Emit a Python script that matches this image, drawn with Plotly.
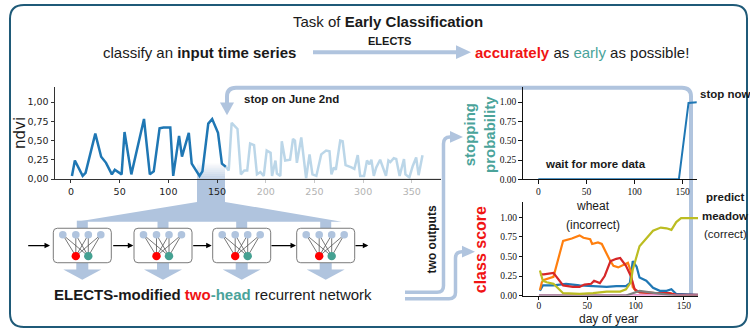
import plotly.graph_objects as go

W, H = 750, 336

# ---------------- data ----------------
# NDVI observations up to the stopping day
ndvi_day_seen = [1, 4, 12, 15, 25, 31, 36, 42, 45, 49, 52, 55, 62, 75, 81, 85, 91, 95, 102, 105,
                 111, 114, 121, 124, 132, 135, 141, 145, 151, 155, 159]
ndvi_seen = [0.04, 0.24, 0.04, 0.08, 0.59, 0.29, 0.21, 0.06, 0.12, 0.09, 0.06, 0.61, 0.06, 0.78, 0.06,
             0.10, 0.66, 0.67, 0.67, 0.04, 0.56, 0.29, 0.60, 0.20, 0.04, 0.10, 0.72, 0.78, 0.60, 0.20, 0.16]
# remainder of the year, never needed by the classifier
ndvi_day_unseen = [159, 162, 165, 171, 174.5, 178, 181, 184, 188, 191, 194.5, 198, 201, 205, 206.5, 210,
                   211.5, 215, 216.5, 220, 225, 228, 230, 232, 236.5, 241.5, 245, 248, 252, 254, 257, 262,
                   265.5, 267.5, 270, 272, 276.5, 279, 282, 288, 291, 294.5, 297, 301, 304, 306.5, 308.5,
                   311, 313.5, 317.5, 320, 323.5, 326, 328, 331.5, 334, 337.5, 342, 343.5, 347.5, 351,
                   354.5, 357, 361]
ndvi_unseen = [0.16, 0.11, 0.73, 0.65, 0.06, 0.11, 0.11, 0.46, 0.44, 0.06, 0.09, 0.04, 0.37, 0.34, 0.04,
               0.24, 0.07, 0.04, 0.49, 0.24, 0.25, 0.52, 0.50, 0.21, 0.54, 0.01, 0.32, 0.06, 0.04, 0.15,
               0.32, 0.37, 0.36, 0.06, 0.15, 0.12, 0.50, 0.49, 0.18, 0.15, 0.13, 0.31, 0.04, 0.04, 0.24,
               0.19, 0.25, 0.04, 0.15, 0.25, 0.15, 0.04, 0.24, 0.22, 0.27, 0.26, 0.04, 0.26, 0.06, 0.02,
               0.17, 0.28, 0.05, 0.31]
ndvi_xticks_seen = [0, 50, 100, 150]
ndvi_xticks_unseen = [200, 250, 300, 350]
ndvi_yticks = [0, 0.25, 0.5, 0.75, 1.0]
ndvi_ytick_labels = ["0,00", "0,25", "0,50", "0,75", "1,00"]

# stopping head output
stop_day = [0, 146, 156, 165]
stop_prob = [0.0, 0.0, 0.99, 1.0]

# classification head output, one series per class
blue_day = [1, 4, 15, 28, 35, 42, 56, 70, 80, 90, 94, 97, 101, 104, 111, 118, 125, 132, 137, 142, 165]
blue_score = [0.06, 0.13, 0.13, 0.15, 0.14, 0.13, 0.12, 0.11, 0.12, 0.12, 0.16, 0.44, 0.37, 0.23, 0.19,
              0.10, 0.06, 0.06, 0.08, 0.02, 0.01]
wheat_day = [1, 3, 5, 15, 25, 34, 42, 46, 53, 55, 61, 65, 73, 77, 82, 87, 92, 95, 97, 101, 108, 120, 135,
             142, 165]
wheat_score = [0.07, 0.17, 0.20, 0.24, 0.70, 0.73, 0.77, 0.74, 0.72, 0.66, 0.68, 0.66, 0.46, 0.38, 0.36,
               0.39, 0.42, 0.31, 0.11, 0.05, 0.04, 0.03, 0.03, 0.0, 0.0]
red_day = [1, 5, 15, 25, 35, 42, 47, 54, 57, 63, 68, 74, 80, 84, 90, 95, 99, 104, 120, 135, 142, 165]
red_score = [0.27, 0.27, 0.29, 0.13, 0.11, 0.11, 0.14, 0.15, 0.19, 0.16, 0.25, 0.44, 0.47, 0.48, 0.38,
             0.25, 0.08, 0.04, 0.03, 0.03, 0.01, 0.01]
pink_day = [0, 165]
pink_score = [0.003, 0.003]
gray_day = [0, 90, 97, 104, 115, 130, 140, 165]
gray_score = [0.0, 0.0, 0.03, 0.06, 0.04, 0.02, 0.0, 0.0]
meadow_day = [1, 4, 8, 15, 25, 42, 56, 70, 84, 90, 95, 97, 104, 111, 118, 126, 132, 137, 142, 147, 156, 165]
meadow_score = [0.32, 0.19, 0.17, 0.15, 0.03, 0.02, 0.03, 0.05, 0.05, 0.08, 0.17, 0.33, 0.63, 0.73, 0.83,
                0.87, 0.86, 0.84, 0.94, 0.99, 0.99, 0.99]

prob_ticks = [0, 0.25, 0.5, 0.75, 1.0]
day_ticks = [0, 50, 100, 150]

# ---------------- styling ----------------
STEEL = "#b0c4de"
TEAL = "#4aa39a"
RED = "#f01414"
BORDER = "#1f5a78"
SANS = "Liberation Sans"


def fx(x):
    return x / W


def fy(y):
    return 1 - y / H


def pt(x, y):
    return f"{fx(x):.5f},{fy(y):.5f}"


def poly(points):
    return "M " + " L ".join(pt(x, y) for x, y in points) + " Z"


def rounded_rect(x0, y0, x1, y1, r):
    return (f"M {pt(x0 + r, y0)} L {pt(x1 - r, y0)} Q {pt(x1, y0)} {pt(x1, y0 + r)} "
            f"L {pt(x1, y1 - r)} Q {pt(x1, y1)} {pt(x1 - r, y1)} L {pt(x0 + r, y1)} "
            f"Q {pt(x0, y1)} {pt(x0, y1 - r)} L {pt(x0, y0 + r)} Q {pt(x0, y0)} {pt(x0 + r, y0)} Z")


shapes = []


def add_path(path, line=None, fill=None, width=1, layer="below"):
    s = dict(type="path", xref="paper", yref="paper", path=path, layer=layer)
    s["line"] = dict(color=line, width=width) if line else dict(width=0)
    if fill:
        s["fillcolor"] = fill
    shapes.append(s)


def add_circle(cx, cy, r, fill):
    shapes.append(dict(type="circle", xref="paper", yref="paper", layer="below",
                       x0=fx(cx - r), x1=fx(cx + r), y0=fy(cy + r), y1=fy(cy - r),
                       fillcolor=fill, line=dict(width=0)))


def add_line(x0, y0, x1, y1, color, width):
    shapes.append(dict(type="line", xref="paper", yref="paper", layer="below",
                       x0=fx(x0), y0=fy(y0), x1=fx(x1), y1=fy(y1),
                       line=dict(color=color, width=width)))


# outer frame
add_path(rounded_rect(10, 5, 747, 332, 14), line=BORDER, width=2)

# header arrow
add_line(313, 53, 458, 53, STEEL, 4)
add_path(poly([(456, 46), (471, 53), (456, 60)]), fill=STEEL)

# feedback arrow: stopping decision back to the input series
add_path(f"M {pt(691, 300)} L {pt(691, 98)} Q {pt(691, 89)} {pt(682, 89)} L {pt(236, 89)} "
         f"Q {pt(227, 89)} {pt(227, 98)} L {pt(227, 106)}", line=STEEL, width=4)
add_path(poly([(220, 104), (234, 104), (227, 117)]), fill=STEEL)

# two outputs arrows
add_path(f"M {pt(405, 296.7)} L {pt(437, 296.7)} Q {pt(443.5, 296.7)} {pt(443.5, 290)} "
         f"L {pt(443.5, 146)} Q {pt(443.5, 139)} {pt(450, 139)} L {pt(452, 139)}", line=STEEL, width=3.5)
add_path(poly([(450, 133), (463, 139), (450, 145)]), fill=STEEL)
add_path(f"M {pt(405, 303.3)} L {pt(449, 303.3)} Q {pt(455.5, 303.3)} {pt(455.5, 297)} "
         f"L {pt(455.5, 262)} Q {pt(455.5, 255.5)} {pt(462, 255.5)} L {pt(464, 255.5)}", line=STEEL, width=3.5)
add_path(poly([(462, 249.5), (475, 255.5), (462, 261.5)]), fill=STEEL)

# window of the series fed into the network
for i in range(8):
    a = 0.08 + 0.1 * i
    add_path(poly([(197, 166 + 2 * i), (225, 166 + 2 * i), (225, 168 + 2 * i), (197, 168 + 2 * i)]),
             fill=f"rgba(176,196,222,{a:.2f})")
add_path(poly([(197, 182), (225, 182), (225, 205), (341.7, 225), (76.7, 225), (197, 205)]), fill=STEEL)

# recurrent cells
box_left = [53.3, 134, 212.7, 296.7]
box_w = 58
top_y, bot_y = 231.7, 266.7
top_off = [-19.5, -6.5, 6, 18.5]
for bl in box_left:
    c = bl + box_w / 2
    add_path(poly([(c - 5.5, 224), (c + 5.5, 224), (c + 5.5, top_y), (c - 5.5, top_y)]), fill=STEEL)
    add_path(poly([(c - 6, bot_y), (c + 6, bot_y), (c + 6, 273.5), (c + 19, 273.5), (c, 284),
                   (c - 19, 273.5), (c - 6, 273.5)]), fill=STEEL)
    add_path(rounded_rect(bl, top_y, bl + box_w, bot_y, 4), line="#7a7a7a", fill="white", width=1)
    for o in top_off:
        for b in (-6.5, 6):
            add_line(c + o, 238.3, c + b, 260, "#555555", 0.8)
    for o in top_off:
        add_circle(c + o, 238.3, 3.8, STEEL)
    add_circle(c - 6.5, 260, 4.2, "#ff0000")
    add_circle(c + 6, 260, 4.2, "#45a192")

# ---------------- traces ----------------
fig = go.Figure()
fig.add_trace(go.Scatter(x=ndvi_day_unseen, y=ndvi_unseen, mode="lines", xaxis="x4", yaxis="y",
                         line=dict(color="rgba(31,119,180,0.3)", width=2.5)))
fig.add_trace(go.Scatter(x=ndvi_day_seen, y=ndvi_seen, mode="lines", xaxis="x", yaxis="y",
                         line=dict(color="#1f77b4", width=2.5)))
fig.add_trace(go.Scatter(x=stop_day, y=stop_prob, mode="lines", xaxis="x2", yaxis="y2",
                         line=dict(color="#1f77b4", width=2)))
for d, s, col in [(blue_day, blue_score, "#1f77b4"), (wheat_day, wheat_score, "#ff7f0e"),
                  (red_day, red_score, "#d62728"), (pink_day, pink_score, "#e377c2"),
                  (gray_day, gray_score, "#7f7f7f"), (meadow_day, meadow_score, "#bcbd22")]:
    fig.add_trace(go.Scatter(x=d, y=s, mode="lines", xaxis="x3", yaxis="y3",
                             line=dict(color=col, width=2.2)))

# ---------------- axes ----------------
base = dict(showgrid=False, zeroline=False, showline=True, ticks="outside", ticklen=3.5,
            tickwidth=1, linewidth=1, fixedrange=True)
ndvi_font = dict(family="DejaVu Sans", size=9.5, color="#222")
serif_font = dict(family="Liberation Serif", size=9.5, color="#111")

layout_axes = dict(
    xaxis=dict(base, domain=[fx(55), fx(441)], range=[-16.4, 380], anchor="y",
               tickvals=ndvi_xticks_seen, tickfont=ndvi_font, linecolor="#333", tickcolor="#333"),
    xaxis4=dict(base, overlaying="x", anchor="y", side="bottom", range=[-16.4, 380],
                tickvals=ndvi_xticks_unseen, showline=False, tickcolor="#c8c8c8",
                tickfont=dict(family="DejaVu Sans", size=9.5, color="#b3b3b3")),
    yaxis=dict(base, domain=[fy(181.7), fy(88)], range=[0, 1.2], anchor="x",
               tickvals=ndvi_yticks, ticktext=ndvi_ytick_labels, tickfont=ndvi_font,
               linecolor="#333", tickcolor="#333"),
    xaxis2=dict(base, domain=[fx(522.7), fx(696.7)], range=[-16.2, 164.5], anchor="y2",
                tickvals=day_ticks, tickfont=serif_font, linecolor="#111", tickcolor="#111"),
    yaxis2=dict(base, domain=[fy(182), fy(88)], range=[0, 1.2], anchor="x2",
                tickvals=prob_ticks, tickformat=".2f", tickfont=serif_font,
                linecolor="#111", tickcolor="#111"),
    xaxis3=dict(base, domain=[fx(523.3), fx(698)], range=[-16.2, 164.5], anchor="y3",
                ticklabelstandoff=-2,
                tickvals=day_ticks, tickfont=serif_font, linecolor="#111", tickcolor="#111"),
    yaxis3=dict(base, domain=[fy(300), fy(204.8)], range=[0, 1.2], anchor="x3",
                tickvals=prob_ticks, tickformat=".2f", tickfont=serif_font,
                linecolor="#111", tickcolor="#111"),
)

# light axis line for the part of the year after stopping
shapes.append(dict(type="line", xref="x", yref="y", x0=158, x1=380, y0=0, y1=0, layer="above",
                   line=dict(color="#c8c8c8", width=1)))

# ---------------- text ----------------
annotations = []


def label(x, y, text, size, color="#1a1a1a", xanchor="center", angle=0, family=SANS):
    annotations.append(dict(xref="paper", yref="paper", x=fx(x), y=fy(y), text=text, showarrow=False,
                            xanchor=xanchor, yanchor="middle", textangle=angle,
                            font=dict(family=family, size=size, color=color)))


label(388, 22, "Task of <b>Early Classification</b>", 15)
label(298, 53, "classify an <b>input time series</b>", 15, xanchor="right")
label(389, 42, "<b>ELECTS</b>", 11)
label(473, 53, f"<b><span style='color:{RED}'>accurately</span></b> as "
               f"<span style='color:{TEAL}'>early</span> as possible!", 15, xanchor="left")
label(242, 100, "<b>stop on June 2nd</b>", 11.5, xanchor="left")
label(20, 135, "ndvi", 15, angle=-90, family="DejaVu Sans")
label(480, 137, "<b>stopping<br>probability</b>", 15, color=TEAL, angle=-90)
label(480, 254, "<b>class score</b>", 16, color=RED, angle=-90)
label(432, 243, "<b>two outputs</b>", 12, angle=-90)
label(543, 166, "<b>wait for more data</b>", 11.5, xanchor="left")
label(698, 95, "<b>stop now</b>", 11.5, xanchor="left")
label(593, 209, "wheat", 12)
label(593, 228, "(incorrect)", 12)
label(725, 200, "<b>predict</b>", 11.5)
label(725, 219, "<b>meadow</b>", 11.5)
label(725, 238, "(correct)", 11.5)
label(608, 324, "day of year", 12)
label(213, 298.5, f"<b>ELECTS-modified <span style='color:{RED}'>two</span>"
                  f"<span style='color:{TEAL}'>-head</span></b> recurrent network", 15)

# arrows between recurrent cells
for tail, head in [(26.7, 50), (111.7, 133.3), (191.7, 211.7), (270, 296), (354, 368.3)]:
    annotations.append(dict(xref="paper", yref="paper", x=fx(head), y=fy(249.3), ax=tail - head, ay=0,
                            text="", showarrow=True, arrowhead=2, arrowsize=1, arrowwidth=1.1,
                            arrowcolor="black", standoff=0))

fig.update_layout(
    width=W, height=H, margin=dict(l=0, r=0, t=0, b=0), autosize=False,
    paper_bgcolor="white", plot_bgcolor="rgba(0,0,0,0)", showlegend=False,
    shapes=shapes, annotations=annotations, **layout_axes,
)

fig.write_html("out.html")
